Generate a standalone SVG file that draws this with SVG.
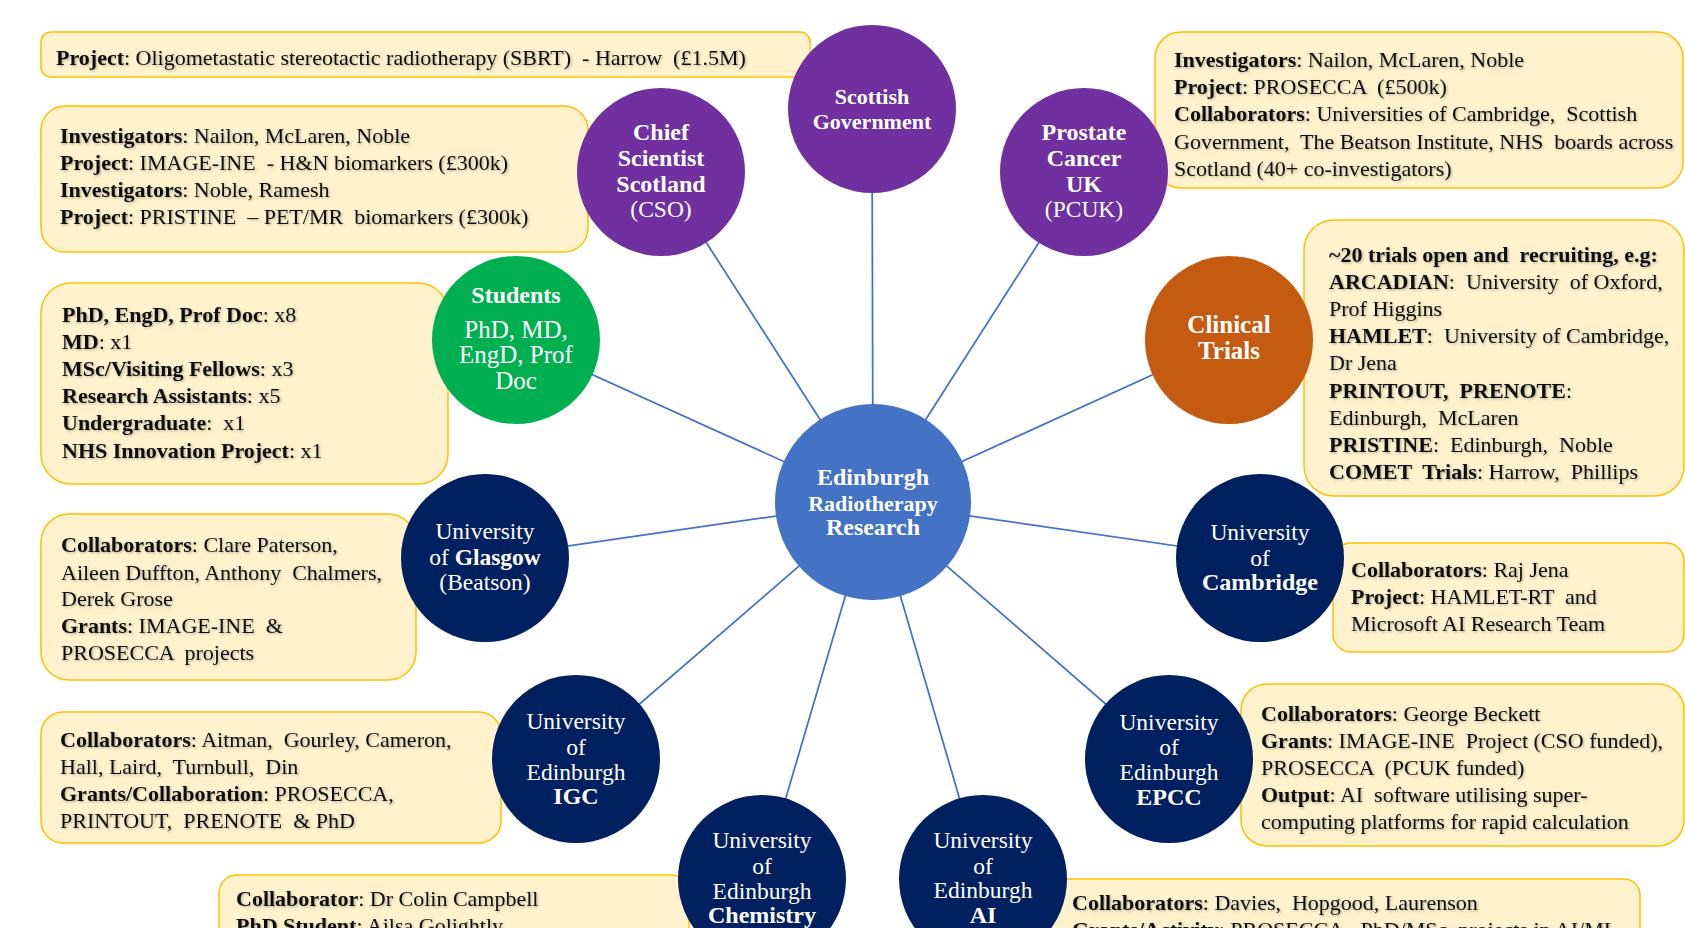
<svg xmlns="http://www.w3.org/2000/svg" width="1685" height="928" viewBox="0 0 1685 928">
<defs>
<filter id="ts" x="-5%" y="-30%" width="110%" height="160%">
<feDropShadow dx="1.2" dy="1.2" stdDeviation="0.8" flood-color="#000" flood-opacity="0.28"/>
</filter>
<style>
.box{fill:#FFF2CC;stroke:#FFC000;stroke-width:1.5}
.bt{font-family:"Liberation Serif","Times New Roman",serif;font-size:22px;fill:#111;filter:url(#ts)}
.b{font-weight:bold}
.con{stroke:#4472C4;stroke-width:1.75;fill:none}
.nb{font-family:"Liberation Serif","Times New Roman",serif;font-size:24px;font-weight:bold;fill:#fff;text-anchor:middle}
.nr{font-family:"Liberation Serif","Times New Roman",serif;font-size:23.5px;fill:#fff;text-anchor:middle}
.purple{fill:#7030A0}
.navy{fill:#002060}
</style>
</defs>
<rect width="1685" height="928" fill="#fff"/>

<g id="info-boxes">
<g id="info-sbrt">
<rect class="box" x="41" y="32" width="769" height="45" rx="10"/>
<text class="bt" x="56" y="65" xml:space="preserve"><tspan class="b">Project</tspan>: Oligometastatic stereotactic radiotherapy (SBRT)  - Harrow  (£1.5M)</text>
</g>
<g id="info-cso">
<rect class="box" x="41" y="106" width="547" height="146" rx="24"/>
<text class="bt" x="60" y="143" xml:space="preserve"><tspan class="b">Investigators</tspan>: Nailon, McLaren, Noble</text>
<text class="bt" x="60" y="170" xml:space="preserve"><tspan class="b">Project</tspan>: IMAGE-INE  - H&amp;N biomarkers (£300k)</text>
<text class="bt" x="60" y="197" xml:space="preserve"><tspan class="b">Investigators</tspan>: Noble, Ramesh</text>
<text class="bt" x="60" y="224" xml:space="preserve"><tspan class="b">Project</tspan>: PRISTINE  – PET/MR  biomarkers (£300k)</text>
</g>
<g id="info-students">
<rect class="box" x="41" y="283" width="407" height="201" rx="30"/>
<text class="bt" x="62" y="322" xml:space="preserve"><tspan class="b">PhD, EngD, Prof Doc</tspan>: x8</text>
<text class="bt" x="62" y="349" xml:space="preserve"><tspan class="b">MD</tspan>: x1</text>
<text class="bt" x="62" y="376" xml:space="preserve"><tspan class="b">MSc/Visiting Fellows</tspan>: x3</text>
<text class="bt" x="62" y="403" xml:space="preserve"><tspan class="b">Research Assistants</tspan>: x5</text>
<text class="bt" x="62" y="430" xml:space="preserve"><tspan class="b">Undergraduate</tspan>:  x1</text>
<text class="bt" x="62" y="458" xml:space="preserve"><tspan class="b">NHS Innovation Project</tspan>: x1</text>
</g>
<g id="info-glasgow">
<rect class="box" x="41" y="514" width="375" height="166" rx="28"/>
<text class="bt" x="61" y="552" xml:space="preserve"><tspan class="b">Collaborators</tspan>: Clare Paterson,</text>
<text class="bt" x="61" y="580" xml:space="preserve">Aileen Duffton, Anthony  Chalmers,</text>
<text class="bt" x="61" y="606" xml:space="preserve">Derek Grose</text>
<text class="bt" x="61" y="633" xml:space="preserve"><tspan class="b">Grants</tspan>: IMAGE-INE  &amp;</text>
<text class="bt" x="61" y="660" xml:space="preserve">PROSECCA  projects</text>
</g>
<g id="info-igc">
<rect class="box" x="41" y="712" width="460" height="131" rx="22"/>
<text class="bt" x="60" y="747" xml:space="preserve"><tspan class="b">Collaborators</tspan>: Aitman,  Gourley, Cameron,</text>
<text class="bt" x="60" y="774" xml:space="preserve">Hall, Laird,  Turnbull,  Din</text>
<text class="bt" x="60" y="801" xml:space="preserve"><tspan class="b">Grants/Collaboration</tspan>: PROSECCA,</text>
<text class="bt" x="60" y="828" xml:space="preserve">PRINTOUT,  PRENOTE  &amp; PhD</text>
</g>
<g id="info-chemistry">
<rect class="box" x="219" y="875" width="470" height="80" rx="18"/>
<text class="bt" x="236" y="906" xml:space="preserve"><tspan class="b">Collaborator</tspan>: Dr Colin Campbell</text>
<text class="bt" x="236" y="933" xml:space="preserve"><tspan class="b">PhD Student</tspan>: Ailsa Golightly</text>
</g>
<g id="info-pcuk">
<rect class="box" x="1155" y="32" width="528" height="156" rx="26"/>
<text class="bt" x="1174" y="67" xml:space="preserve"><tspan class="b">Investigators</tspan>: Nailon, McLaren, Noble</text>
<text class="bt" x="1174" y="94" xml:space="preserve"><tspan class="b">Project</tspan>: PROSECCA  (£500k)</text>
<text class="bt" x="1174" y="121" xml:space="preserve"><tspan class="b">Collaborators</tspan>: Universities of Cambridge,  Scottish</text>
<text class="bt" x="1174" y="149" xml:space="preserve">Government,  The Beatson Institute, NHS  boards across</text>
<text class="bt" x="1174" y="176" xml:space="preserve">Scotland (40+ co-investigators)</text>
</g>
<g id="info-trials">
<rect class="box" x="1304" y="220" width="380" height="276" rx="30"/>
<text class="bt b" x="1329" y="262" xml:space="preserve">~20 trials open and  recruiting, e.g:</text>
<text class="bt" x="1329" y="289" xml:space="preserve"><tspan class="b">ARCADIAN</tspan>:  University  of Oxford,</text>
<text class="bt" x="1329" y="316" xml:space="preserve">Prof Higgins</text>
<text class="bt" x="1329" y="343" xml:space="preserve"><tspan class="b">HAMLET</tspan>:  University of Cambridge,</text>
<text class="bt" x="1329" y="370" xml:space="preserve">Dr Jena</text>
<text class="bt" x="1329" y="398" xml:space="preserve"><tspan class="b">PRINTOUT,  PRENOTE</tspan>:</text>
<text class="bt" x="1329" y="425" xml:space="preserve">Edinburgh,  McLaren</text>
<text class="bt" x="1329" y="452" xml:space="preserve"><tspan class="b">PRISTINE</tspan>:  Edinburgh,  Noble</text>
<text class="bt" x="1329" y="479" xml:space="preserve"><tspan class="b">COMET  Trials</tspan>: Harrow,  Phillips</text>
</g>
<g id="info-cambridge">
<rect class="box" x="1333" y="543" width="351" height="109" rx="18"/>
<text class="bt" x="1351" y="577" xml:space="preserve"><tspan class="b">Collaborators</tspan>: Raj Jena</text>
<text class="bt" x="1351" y="604" xml:space="preserve"><tspan class="b">Project</tspan>: HAMLET-RT  and</text>
<text class="bt" x="1351" y="631" xml:space="preserve">Microsoft AI Research Team</text>
</g>
<g id="info-epcc">
<rect class="box" x="1241" y="684" width="443" height="162" rx="26"/>
<text class="bt" x="1261" y="721" xml:space="preserve"><tspan class="b">Collaborators</tspan>: George Beckett</text>
<text class="bt" x="1261" y="748" xml:space="preserve"><tspan class="b">Grants</tspan>: IMAGE-INE  Project (CSO funded),</text>
<text class="bt" x="1261" y="775" xml:space="preserve">PROSECCA  (PCUK funded)</text>
<text class="bt" x="1261" y="802" xml:space="preserve"><tspan class="b">Output</tspan>: AI  software utilising super-</text>
<text class="bt" x="1261" y="829" xml:space="preserve">computing platforms for rapid calculation</text>
</g>
<g id="info-ai">
<rect class="box" x="1040" y="879" width="600" height="80" rx="16"/>
<text class="bt" x="1072" y="910" xml:space="preserve"><tspan class="b">Collaborators</tspan>: Davies,  Hopgood, Laurenson</text>
<text class="bt" x="1072" y="937" xml:space="preserve"><tspan class="b">Grants/Activity</tspan>: PROSECCA,  PhD/MSc  projects in AI/ML</text>
</g>
</g>

<g id="connectors">
<line class="con" x1="873" y1="502" x2="872" y2="109"/>
<line class="con" x1="873" y1="502" x2="661" y2="172"/>
<line class="con" x1="873" y1="502" x2="1084" y2="172"/>
<line class="con" x1="873" y1="502" x2="516" y2="340"/>
<line class="con" x1="873" y1="502" x2="1229" y2="340"/>
<line class="con" x1="873" y1="502" x2="485" y2="558"/>
<line class="con" x1="873" y1="502" x2="1260" y2="558"/>
<line class="con" x1="873" y1="502" x2="576" y2="759"/>
<line class="con" x1="873" y1="502" x2="1169" y2="759"/>
<line class="con" x1="873" y1="502" x2="762" y2="879"/>
<line class="con" x1="873" y1="502" x2="983" y2="879"/>
</g>

<g id="node-center">
<circle cx="873" cy="502" r="98" fill="#4472C4"/>
<text class="nb" x="873" y="485">Edinburgh</text>
<text class="nb" x="873" y="511" style="font-size:22px">Radiotherapy</text>
<text class="nb" x="873" y="535">Research</text>
</g>
<g id="node-scottish-government">
<circle class="purple" cx="872" cy="109" r="84"/>
<text class="nb" x="872" y="104" style="font-size:22px">Scottish</text>
<text class="nb" x="872" y="129" style="font-size:22px">Government</text>
</g>
<g id="node-cso">
<circle class="purple" cx="661" cy="172" r="84"/>
<text class="nb" x="661" y="140">Chief</text>
<text class="nb" x="661" y="166">Scientist</text>
<text class="nb" x="661" y="192">Scotland</text>
<text class="nr" x="661" y="217">(CSO)</text>
</g>
<g id="node-pcuk">
<circle class="purple" cx="1084" cy="172" r="84"/>
<text class="nb" x="1084" y="140">Prostate</text>
<text class="nb" x="1084" y="166">Cancer</text>
<text class="nb" x="1084" y="192">UK</text>
<text class="nr" x="1084" y="217">(PCUK)</text>
</g>
<g id="node-students">
<circle cx="516" cy="340" r="84" fill="#00B050"/>
<text class="nb" x="516" y="303">Students</text>
<text class="nr" x="516" y="338" style="font-size:25px">PhD, MD,</text>
<text class="nr" x="516" y="363" style="font-size:25px">EngD, Prof</text>
<text class="nr" x="516" y="389" style="font-size:25px">Doc</text>
</g>
<g id="node-clinical-trials">
<circle cx="1229" cy="340" r="84" fill="#C55A11"/>
<text class="nb" x="1229" y="333" style="font-size:25px">Clinical</text>
<text class="nb" x="1229" y="359" style="font-size:25px">Trials</text>
</g>
<g id="node-glasgow">
<circle class="navy" cx="485" cy="558" r="84"/>
<text class="nr" x="485" y="539">University</text>
<text class="nr" x="485" y="565">of <tspan font-weight="bold">Glasgow</tspan></text>
<text class="nr" x="485" y="590">(Beatson)</text>
</g>
<g id="node-cambridge">
<circle class="navy" cx="1260" cy="558" r="84"/>
<text class="nr" x="1260" y="540">University</text>
<text class="nr" x="1260" y="566">of</text>
<text class="nb" x="1260" y="590">Cambridge</text>
</g>
<g id="node-igc">
<circle class="navy" cx="576" cy="759" r="84"/>
<text class="nr" x="576" y="729">University</text>
<text class="nr" x="576" y="755">of</text>
<text class="nr" x="576" y="780">Edinburgh</text>
<text class="nb" x="576" y="804">IGC</text>
</g>
<g id="node-epcc">
<circle class="navy" cx="1169" cy="759" r="84"/>
<text class="nr" x="1169" y="730">University</text>
<text class="nr" x="1169" y="755">of</text>
<text class="nr" x="1169" y="780">Edinburgh</text>
<text class="nb" x="1169" y="805">EPCC</text>
</g>
<g id="node-chemistry">
<circle class="navy" cx="762" cy="879" r="84"/>
<text class="nr" x="762" y="848">University</text>
<text class="nr" x="762" y="874">of</text>
<text class="nr" x="762" y="899">Edinburgh</text>
<text class="nb" x="762" y="923">Chemistry</text>
</g>
<g id="node-ai">
<circle class="navy" cx="983" cy="879" r="84"/>
<text class="nr" x="983" y="848">University</text>
<text class="nr" x="983" y="874">of</text>
<text class="nr" x="983" y="898">Edinburgh</text>
<text class="nb" x="983" y="923">AI</text>
</g>
</svg>
